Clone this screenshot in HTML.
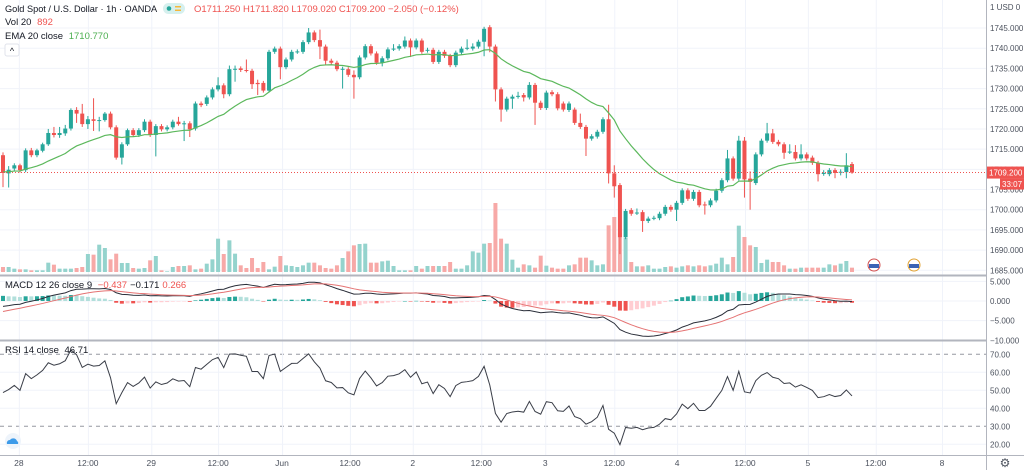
<!DOCTYPE html>
<html><head><meta charset="utf-8">
<style>
html,body{margin:0;padding:0;background:#fff;}
svg{display:block;font-family:"Liberation Sans",sans-serif;}
</style></head>
<body>
<svg id="chart" width="1024" height="470" viewBox="0 0 1024 470" xmlns="http://www.w3.org/2000/svg">
<rect x="0" y="0" width="1024" height="470" fill="#fff"/>
<g id="grid"></g>
<g id="volume"></g>
<g id="candles"></g>
<g id="overlay"></g>
<g id="axes"></g>
<g id="legend">
  <text x="5" y="12" font-size="9.2" fill="#131722">Gold Spot / U.S. Dollar · 1h · OANDA</text>
  <rect x="163" y="3" width="22" height="11" rx="5.5" fill="#d6f0ee"/>
  <circle cx="169" cy="8.5" r="2.3" fill="#26a69a"/>
  <rect x="175" y="6" width="6" height="1.5" fill="#f5b73b"/>
  <rect x="175" y="9.5" width="6" height="1.5" fill="#f5b73b"/>
  <text x="194" y="12" font-size="9.5" fill="#ef5350">O1711.250  H1711.820  L1709.020  C1709.200  −2.050 (−0.12%)</text>
  <text x="5" y="25" font-size="9.5" fill="#131722">Vol 20 <tspan fill="#ef5350" dx="3">892</tspan></text>
  <text x="5" y="39" font-size="9.5" fill="#131722">EMA 20 close <tspan fill="#4caf50" dx="3">1710.770</tspan></text>
  <rect x="5" y="44" width="14" height="12" rx="2" fill="#fff" stroke="#e0e3eb"/>
  <text x="12" y="54" font-size="9" text-anchor="middle" fill="#131722">^</text>
  <text x="5" y="288" font-size="9.5" fill="#131722">MACD 12 26 close 9 <tspan fill="#ef5350" dx="3">−0.437</tspan><tspan fill="#131722" dx="3">−0.171</tspan><tspan fill="#ef5350" dx="3">0.266</tspan></text>
  <text x="5" y="353" font-size="9.5" fill="#131722">RSI 14 close <tspan dx="3">46.71</tspan></text>
  <g>
    <circle cx="13" cy="441" r="8" fill="#eef4fb"/>
    <path d="M7,444 a3,3 0 0 1 3,-4 a4,4 0 0 1 7,1 a2.5,2.5 0 0 1 1,3 z" fill="#3d9be9"/>
  </g>
  <g>
    <circle cx="874" cy="265" r="6" fill="#fff" stroke="#d04c4c"/><rect x="869" y="264" width="10" height="4" fill="#3a63b5"/>
  </g>
  <g>
    <circle cx="914" cy="265" r="6" fill="#fff" stroke="#e0a030"/><rect x="909" y="264" width="10" height="4" fill="#3a63b5"/>
  </g>
</g>
</svg>
<script>
const opens=[1713.5,1709.0,1710.2,1711.0,1709.8,1714.7,1713.5,1714.6,1716.2,1719.0,1718.5,1718.9,1720.1,1724.7,1723.8,1721.2,1722.4,1722.0,1722.2,1723.8,1720.4,1712.9,1716.2,1719.7,1718.5,1719.7,1721.8,1718.5,1720.7,1719.9,1720.4,1721.8,1721.3,1721.4,1720.1,1726.3,1726.2,1727.8,1729.8,1730.8,1728.6,1734.8,1735.0,1734.6,1734.4,1731.4,1731.4,1729.5,1739.1,1739.9,1735.3,1737.2,1739.1,1739.1,1741.5,1743.9,1742.0,1740.4,1736.9,1736.4,1734.8,1734.8,1733.4,1732.8,1737.7,1740.5,1738.7,1736.4,1737.5,1739.8,1739.9,1740.4,1741.9,1740.2,1741.9,1739.4,1739.6,1736.6,1739.1,1738.1,1735.8,1738.9,1740.0,1739.9,1740.4,1741.6,1745.2,1740.4,1729.8,1724.8,1727.5,1728.0,1728.4,1727.8,1730.9,1726.5,1725.2,1729.1,1728.6,1726.3,1724.7,1724.8,1721.5,1720.5,1717.6,1718.1,1719.3,1722.4,1709.0,1706.1,1693.2,1699.9,1699.2,1699.4,1697.2,1697.9,1697.9,1699.0,1700.7,1700.0,1701.7,1704.8,1702.7,1704.4,1701.3,1701.1,1702.3,1704.7,1707.3,1712.7,1707.7,1717.1,1707.7,1706.6,1713.7,1717.1,1718.9,1716.8,1716.2,1714.3,1714.3,1712.7,1713.7,1712.9,1711.6,1709.0,1708.8,1709.8,1709.3,1709.3,1711.3];
const closes=[1709.1,1709.9,1711.0,1709.8,1714.7,1713.5,1714.7,1716.2,1719.0,1718.5,1719.0,1720.1,1724.7,1723.8,1721.2,1722.4,1722.0,1722.2,1723.8,1720.4,1712.9,1716.2,1719.7,1718.5,1719.7,1721.8,1718.5,1720.7,1719.9,1720.4,1721.8,1721.2,1721.4,1719.9,1726.3,1725.9,1727.8,1729.8,1730.8,1728.6,1734.8,1734.9,1734.6,1734.4,1731.1,1731.1,1729.5,1739.1,1739.9,1735.3,1737.2,1739.1,1739.2,1741.5,1743.9,1742.0,1740.4,1736.9,1736.4,1734.8,1734.9,1733.4,1732.8,1737.7,1740.5,1738.7,1736.4,1737.5,1739.7,1739.9,1740.5,1741.9,1740.2,1741.9,1739.1,1739.6,1736.6,1739.1,1738.1,1735.8,1738.9,1739.9,1740.1,1740.4,1741.6,1744.8,1740.4,1729.8,1724.8,1727.5,1728.0,1728.2,1727.8,1730.9,1726.5,1725.2,1729.0,1728.6,1725.1,1724.8,1726.3,1721.5,1720.5,1717.6,1718.2,1719.3,1722.4,1709.0,1705.8,1693.2,1699.7,1699.0,1699.3,1697.2,1697.8,1698.0,1699.0,1700.7,1700.0,1701.7,1704.8,1702.7,1704.4,1701.1,1701.1,1702.3,1704.7,1707.3,1712.7,1707.7,1717.1,1707.5,1706.9,1713.7,1717.1,1718.9,1716.8,1716.2,1714.1,1714.4,1712.7,1713.7,1712.7,1711.6,1708.8,1709.1,1709.8,1709.1,1709.4,1711.0,1709.2];
const highs=[1714.2,1710.8,1711.5,1711.4,1715.2,1715.3,1715.1,1716.6,1720.0,1720.5,1720.5,1721.0,1725.1,1725.4,1726.2,1723.2,1727.6,1723.0,1724.2,1724.3,1720.9,1716.7,1720.1,1720.2,1720.2,1722.4,1722.3,1721.2,1721.2,1720.9,1722.3,1723.0,1722.0,1721.9,1726.8,1726.8,1728.3,1730.3,1732.8,1731.3,1735.7,1735.7,1735.5,1737.2,1734.9,1732.2,1731.9,1739.6,1740.4,1740.4,1737.7,1739.6,1739.7,1742.0,1745.0,1744.4,1744.6,1740.9,1737.4,1736.9,1735.4,1735.3,1734.5,1738.2,1741.0,1741.0,1739.2,1738.0,1740.2,1741.0,1741.0,1742.9,1742.4,1742.4,1742.4,1740.1,1740.1,1739.6,1739.6,1738.6,1739.4,1740.4,1742.2,1741.2,1742.1,1745.3,1745.7,1740.9,1730.3,1728.0,1728.5,1729.2,1728.9,1731.6,1731.4,1727.0,1729.5,1729.6,1729.1,1726.8,1726.8,1725.3,1723.8,1721.0,1718.7,1719.8,1722.9,1726.0,1711.0,1706.6,1700.2,1700.4,1700.3,1699.9,1698.3,1698.5,1699.5,1701.2,1701.2,1702.2,1705.3,1705.3,1704.9,1704.9,1702.0,1702.8,1705.2,1707.8,1714.8,1713.2,1718.3,1718.0,1709.5,1714.2,1717.6,1721.5,1720.0,1717.3,1716.7,1716.2,1716.0,1716.2,1714.2,1713.4,1712.1,1709.8,1710.3,1710.3,1710.0,1714.0,1711.8];
const lows=[1705.6,1705.5,1709.6,1709.2,1709.3,1713.0,1713.0,1714.2,1715.8,1717.9,1717.8,1718.3,1719.6,1721.5,1720.5,1720.0,1719.5,1719.4,1721.8,1719.9,1712.4,1711.2,1715.8,1718.0,1718.0,1719.2,1718.0,1713.2,1719.4,1719.4,1719.9,1720.8,1717.0,1718.0,1719.6,1725.4,1725.7,1727.3,1729.3,1727.6,1728.1,1731.7,1734.1,1734.0,1729.9,1728.4,1729.0,1729.0,1738.6,1732.3,1734.8,1736.7,1738.6,1738.6,1741.0,1741.5,1737.3,1735.9,1735.9,1734.3,1730.0,1732.9,1727.5,1732.3,1737.2,1738.2,1735.9,1735.5,1737.0,1739.3,1739.4,1739.9,1737.8,1739.7,1738.6,1738.9,1736.1,1736.1,1737.6,1735.3,1735.3,1738.4,1739.5,1739.4,1739.9,1738.0,1739.0,1726.8,1721.8,1724.3,1725.0,1727.5,1726.8,1727.3,1721.0,1724.7,1724.7,1728.1,1724.6,1724.3,1724.2,1721.0,1720.0,1713.3,1717.1,1717.6,1718.8,1706.5,1703.0,1689.0,1692.7,1698.5,1698.7,1694.5,1696.7,1697.4,1697.4,1698.5,1699.5,1697.2,1701.2,1702.2,1702.2,1700.6,1698.8,1700.6,1701.8,1704.2,1706.8,1707.2,1707.2,1703.0,1700.0,1706.1,1713.2,1716.6,1716.3,1715.7,1712.6,1713.8,1712.2,1712.2,1712.2,1711.1,1707.0,1708.4,1708.3,1707.8,1708.5,1707.8,1708.9];
const volumes=[15,15,10,8,8,5,5,5,28,22,10,10,10,12,15,54,52,82,72,38,55,27,27,12,10,12,35,48,5,2,15,18,18,20,8,10,25,38,100,54,95,55,20,12,42,12,30,8,16,48,20,18,15,20,28,28,20,12,10,20,42,62,80,84,85,28,28,32,34,18,5,5,5,18,10,18,18,18,18,30,10,10,20,62,58,85,87,207,100,85,37,13,23,20,13,49,19,13,10,10,20,23,43,43,35,20,23,140,165,117,103,30,17,17,20,10,10,15,17,13,17,20,17,20,17,20,25,43,23,45,139,105,80,75,27,37,30,30,20,10,10,13,13,13,13,13,23,20,25,33,13];
const priceTicks=[1745,1740,1735,1730,1725,1720,1715,1710,1705,1700,1695,1690,1685];
const macdTicks=[5,0,-5,-10];
const rsiTicks=[70,60,50,40,30,20];
const timeLabels=["28","12:00","29","12:00","Jun","12:00","2","12:00","3","12:00","4","12:00","5","12:00","8"];
const timeLabelHours=[2.8,15,26.2,38,49.3,61.3,72.4,84.5,95.8,108,119.1,131.1,142.2,154.2,165.9];

const NS="http://www.w3.org/2000/svg";
function mk(tag,attrs,parent){const e=document.createElementNS(NS,tag);for(const k in attrs)e.setAttribute(k,attrs[k]);parent.appendChild(e);return e;}
const X0=3,DX=5.66,PR=986;
const xOf=i=>X0+i*DX;
const yP=p=>28+(1745-p)*4.038;
const yM=v=>301-v*3.93;
const yR=v=>354.3+(70-v)*1.8;
const volBase=272,volScale=1/3;
const UP="#26a69a",DN="#ef5350";
const grid=document.getElementById('grid'),axes=document.getElementById('axes');
const volG=document.getElementById('volume'),cG=document.getElementById('candles'),ov=document.getElementById('overlay');

priceTicks.forEach(p=>{const l=mk('line',{x1:0,x2:PR,y1:yP(p),y2:yP(p),stroke:'#f0f3fa'},grid);

});
macdTicks.forEach(v=>{const l=mk('line',{x1:0,x2:PR,y1:yM(v),y2:yM(v),stroke:'#f0f3fa'},grid);

});
rsiTicks.forEach(v=>{const dash=(v===70||v===30);const l=mk('line',{x1:0,x2:PR,y1:yR(v),y2:yR(v),stroke:dash?'#9598a1':'#f0f3fa','stroke-dasharray':dash?'4,4':'none'},grid);

});
timeLabelHours.forEach(h=>{const x=xOf(h)+0.5;const l=mk('line',{x1:x,x2:x,y1:0,y2:455,stroke:'#f0f3fa'},grid);

});

volumes.forEach((v,i)=>{const up=closes[i]>=opens[i];const h=v*volScale;
const r=mk('rect',{x:xOf(i)-2,y:volBase-h,width:4,height:h,fill:up?'#94d3cd':'#f7a9a7'},volG);

});

opens.forEach((o,i)=>{const c=closes[i];const up=c>=o;const col=up?UP:DN;const x=xOf(i);
const w=mk('line',{x1:x,x2:x,y1:yP(highs[i]),y2:yP(lows[i]),stroke:col,'stroke-width':1},cG);


const top=yP(Math.max(o,c)),bot=yP(Math.min(o,c));
const b=mk('rect',{x:x-2,y:top,width:4,height:Math.max(1,bot-top),fill:col},cG);

});

function ema(arr,n,seed){const k=2/(n+1);let e=seed;return arr.map(v=>(e=v*k+e*(1-k)));}
const ema20=ema(closes,20,closes[0]+0.3);
const emaPath=mk('polyline',{points:ema20.map((v,i)=>xOf(i)+','+yP(v)).join(' '),fill:'none',stroke:'#5cb85c','stroke-width':1.2},ov);



const lastY=yP(closes[closes.length-1]);
const pl=mk('line',{x1:0,x2:PR,y1:lastY,y2:lastY,stroke:'#ef5350','stroke-dasharray':'1,2'},ov);



const e12=ema(closes,12,closes[0]-0.3),e26=ema(closes,26,closes[0]+1.2);
const macd=e12.map((v,i)=>v-e26[i]);
const sig=ema(macd,9,-3);
macd.forEach((m,i)=>{const h=m-sig[i];const prev=i?macd[i-1]-sig[i-1]:h;let col;
if(h>=0)col=h>=prev?'#26a69a':'#b2dfdb';else col=h<=prev?'#ef5350':'#ffcdd2';
const y1=yM(Math.max(h,0)),y2=yM(Math.min(h,0));
const r=mk('rect',{x:xOf(i)-2,y:y1,width:4,height:Math.max(0.5,y2-y1),fill:col},ov);

});
const ml=mk('polyline',{points:macd.map((v,i)=>xOf(i)+','+yM(v)).join(' '),fill:'none',stroke:'#2a2e39','stroke-width':1},ov);


const sl=mk('polyline',{points:sig.map((v,i)=>xOf(i)+','+yM(v)).join(' '),fill:'none',stroke:'#e57373','stroke-width':1},ov);



let ag=0.95,al=1.0;const rsi=closes.map((c,i)=>{const d=i?c-closes[i-1]:0;ag=(ag*13+Math.max(d,0))/14;al=(al*13+Math.max(-d,0))/14;return 100-100/(1+ag/al);});
const rl=mk('polyline',{points:rsi.map((v,i)=>xOf(i)+','+yR(v)).join(' '),fill:'none',stroke:'#3a3e48','stroke-width':1},ov);



[[0,275.5,PR,275.5],[0,340.5,PR,340.5],[0,455.5,1024,455.5],[986.5,0,986.5,470]].forEach(s=>{
const l=mk('line',{x1:s[0],y1:s[1],x2:s[2],y2:s[3],stroke:'#b2b5be','stroke-width':s[1]===275.5||s[1]===340.5?2:1},axes);

});
priceTicks.forEach(p=>{const t=mk('text',{x:990,y:yP(p)+3,'font-size':8,fill:'#4c525e'},axes);t.textContent=p.toFixed(3);

});
macdTicks.forEach(v=>{const t=mk('text',{x:990,y:yM(v)+3,'font-size':8,fill:'#4c525e'},axes);t.textContent=(v<0?'−':'')+Math.abs(v).toFixed(3);

});
rsiTicks.forEach(v=>{const t=mk('text',{x:990,y:yR(v)+3,'font-size':8,fill:'#4c525e'},axes);t.textContent=v.toFixed(2);

});
timeLabels.forEach((s,k)=>{const t=mk('text',{x:xOf(timeLabelHours[k]),y:466,'font-size':8.5,fill:'#4c525e','text-anchor':'middle'},axes);t.textContent=s;

});
const usd=mk('text',{x:990,y:10,'font-size':8,fill:'#4c525e'},axes);usd.textContent='1  USD  0';


const tag=mk('rect',{x:987,y:lastY-6,width:37,height:12,fill:'#ef5350'},axes);


const tt=mk('text',{x:989,y:lastY+3,'font-size':8,fill:'#fff'},axes);tt.textContent=closes[closes.length-1].toFixed(3);


const cd=mk('rect',{x:1000,y:lastY+6,width:24,height:11,fill:'#ef5350'},axes);


const cdt=mk('text',{x:1002,y:lastY+14.5,'font-size':8,fill:'#fff'},axes);cdt.textContent='33:07';


const gear=mk('text',{x:1005,y:467,'font-size':12,fill:'#4c525e','text-anchor':'middle'},axes);gear.textContent='⚙';


</script>
</body></html>
